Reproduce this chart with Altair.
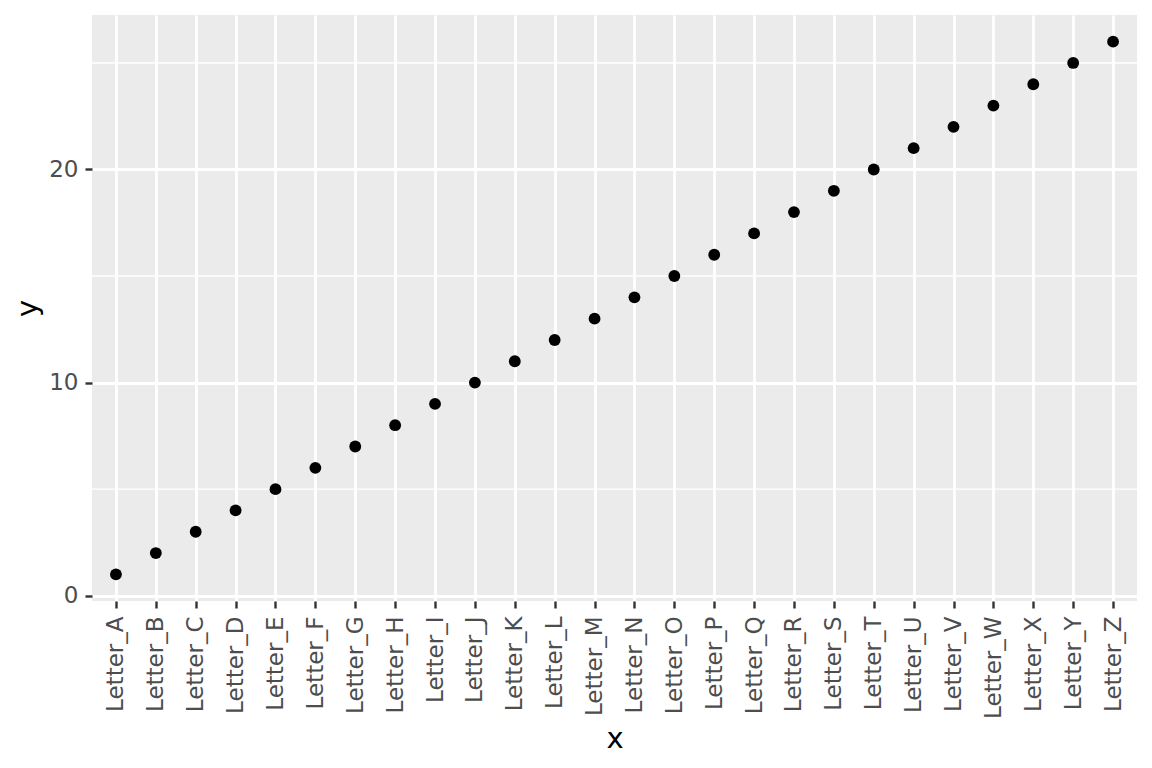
import altair as alt
import pandas as pd

letters = [f"Letter_{c}" for c in "ABCDEFGHIJKLMNOPQRSTUVWXYZ"]
values = [1, 2, 3, 4, 5, 6, 7, 8, 9, 10, 11, 12, 13, 14, 15, 16, 17, 18, 19, 20, 21, 22, 23, 24, 25, 26]
minor_breaks = [5, 15, 25]
major_breaks = [0, 10, 20]

df = pd.DataFrame({"x": letters, "y": values})
minor_df = pd.DataFrame({"m": minor_breaks})

FONT = "DejaVu Sans"

xscale = alt.Scale(type="point", domain=letters, padding=0.6)
yscale = alt.Scale(domain=[-0.25, 27.25], nice=False, zero=False)

minor = alt.Chart(minor_df).mark_rule(color="white", strokeWidth=1.4).encode(
    y=alt.Y("m:Q", scale=yscale)
)

points = alt.Chart(df).mark_point(filled=True, size=140, color="black", opacity=1).encode(
    x=alt.X("x:N", scale=xscale, sort=letters,
            axis=alt.Axis(title="x", labelAngle=-90, labelAlign="right", labelBaseline="middle",
                          labelPadding=8, tickSize=7, tickWidth=2.4, tickColor="#333333",
                          labelColor="#4D4D4D", labelFontSize=23, labelFont=FONT,
                          titleFont=FONT, titleFontSize=29, titleColor="black", titleFontWeight="normal",
                          titlePadding=6, grid=True, gridColor="white", gridWidth=2.8,
                          domain=False)),
    y=alt.Y("y:Q", scale=yscale,
            axis=alt.Axis(title="y", values=major_breaks, labelColor="#4D4D4D", labelFontSize=23,
                          labelFont=FONT, tickSize=7, tickWidth=2.4, tickColor="#333333",
                          labelPadding=7, titleFont=FONT, titleFontSize=29, titleColor="black",
                          titleFontWeight="normal", titlePadding=6, grid=True, gridColor="white",
                          gridWidth=2.8, domain=False)),
)

chart = (minor + points).properties(
    width=1045, height=586,
    background="white",
    autosize=alt.AutoSizeParams(type="none"),
    padding={"left": 84, "top": 7, "right": 7, "bottom": 159},
).configure_view(fill="#EBEBEB", stroke=None)

chart.save("out.html", embed_options={"renderer": "svg", "actions": False})
